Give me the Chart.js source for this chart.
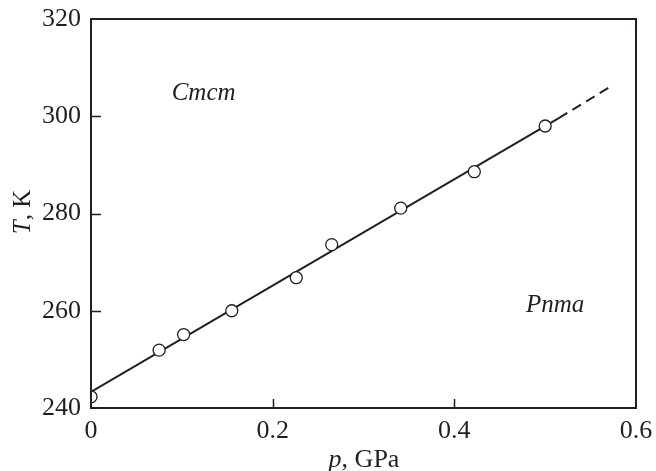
<!DOCTYPE html>
<html>
<head>
<meta charset="utf-8">
<script src="https://cdn.jsdelivr.net/npm/chart.js@4.4.0/dist/chart.umd.min.js"></script>
<style>
  html, body { margin: 0; padding: 0; background: #fff; }
  #wrap { width: 656px; height: 471px; position: relative; }
</style>
</head>
<body>
<div id="wrap"><canvas id="chart"></canvas></div>
<script>
// --- Data ---
const pressure = [0, 0.075, 0.102, 0.155, 0.226, 0.265, 0.341, 0.422, 0.500];
const temperature = [242.3, 251.9, 255.1, 260.0, 266.8, 273.6, 281.1, 288.6, 298.0];

// linear fit: solid part and dashed extrapolation
const fitSolidP = [0, 0.515];
const fitSolidT = [243.3, 299.6];
const fitDashP = [0.515, 0.571];
const fitDashT = [299.6, 306.0];

const xTicks = [0, 0.2, 0.4, 0.6];
const yTicks = [240, 260, 280, 300, 320];

// phase labels (data coordinates)
const phaseNames = ['Cmcm', 'Pnma'];
const phaseP = [0.124, 0.511];
const phaseT = [304.6, 261.0];

const INK = '#231f20';
const SERIF = '"Liberation Serif", "DejaVu Serif", serif';

const toXY = (xs, ys) => xs.map((x, i) => ({ x, y: ys[i] }));

// frame, inward ticks, axis titles, phase labels
const decorPlugin = {
    id: 'decor',
    afterDraw(chart) {
        const { ctx, chartArea: a, scales } = chart;
        ctx.save();
        ctx.strokeStyle = INK;
        ctx.lineWidth = 2;
        ctx.strokeRect(a.left, a.top, a.right - a.left, a.bottom - a.top);

        ctx.lineWidth = 1.5;
        ctx.beginPath();
        xTicks.slice(1, -1).forEach(v => {
            const px = Math.round(scales.x.getPixelForValue(v)) + 0.5;
            ctx.moveTo(px, a.bottom);
            ctx.lineTo(px, a.bottom - 9);
        });
        yTicks.slice(1, -1).forEach(v => {
            const py = Math.round(scales.y.getPixelForValue(v)) + 0.5;
            ctx.moveTo(a.left, py);
            ctx.lineTo(a.left + 10, py);
        });
        ctx.stroke();

        ctx.fillStyle = INK;
        ctx.textBaseline = 'alphabetic';

        // x title: "p, GPa"
        const xt1 = 'p', xt2 = ', GPa';
        ctx.font = 'italic 26px ' + SERIF;
        const w1 = ctx.measureText(xt1).width;
        ctx.font = '26px ' + SERIF;
        const w2 = ctx.measureText(xt2).width;
        let sx = 364 - (w1 + w2) / 2;
        ctx.textAlign = 'left';
        ctx.font = 'italic 26px ' + SERIF;
        ctx.fillText(xt1, sx, 467);
        ctx.font = '26px ' + SERIF;
        ctx.fillText(xt2, sx + w1, 467);

        // y title: "T, K" rotated
        ctx.save();
        ctx.translate(30, 212);
        ctx.rotate(-Math.PI / 2);
        const yt1 = 'T', yt2 = ', K';
        ctx.font = 'italic 25px ' + SERIF;
        const v1 = ctx.measureText(yt1).width;
        ctx.font = '25px ' + SERIF;
        const v2 = ctx.measureText(yt2).width;
        const sy = -(v1 + v2) / 2;
        ctx.font = 'italic 25px ' + SERIF;
        ctx.fillText(yt1, sy, 0);
        ctx.font = '25px ' + SERIF;
        ctx.fillText(yt2, sy + v1, 0);
        ctx.restore();

        // phase labels
        ctx.font = 'italic 25px ' + SERIF;
        ctx.textAlign = 'center';
        ctx.textBaseline = 'middle';
        phaseNames.forEach((name, i) => {
            ctx.fillText(name, scales.x.getPixelForValue(phaseP[i]), scales.y.getPixelForValue(phaseT[i]));
        });
        ctx.restore();
    }
};

new Chart(document.getElementById('chart'), {
    type: 'scatter',
    data: {
        datasets: [
            {
                label: 'fit',
                data: toXY(fitSolidP, fitSolidT),
                showLine: true,
                borderColor: INK,
                borderWidth: 2,
                pointRadius: 0,
                order: 2
            },
            {
                label: 'fit (extrapolated)',
                data: toXY(fitDashP, fitDashT),
                showLine: true,
                borderColor: INK,
                borderWidth: 2,
                borderDash: [10, 6],
                pointRadius: 0,
                order: 2
            },
            {
                label: 'measured',
                data: toXY(pressure, temperature),
                showLine: false,
                pointRadius: 6,
                pointBackgroundColor: '#fff',
                pointBorderColor: INK,
                pointBorderWidth: 1.3,
                order: 1
            }
        ]
    },
    options: {
        responsive: true,
        maintainAspectRatio: false,
        animation: false,
        layout: { padding: { top: 19, right: 20, left: 0, bottom: 0 } },
        scales: {
            x: {
                type: 'linear',
                min: 0,
                max: 0.6,
                afterFit: s => { s.height = 63; s.paddingLeft = 0; s.paddingRight = 0; },
                afterBuildTicks: s => { s.ticks = xTicks.map(v => ({ value: v })); },
                ticks: {
                    color: INK,
                    font: { family: SERIF, size: 26 },
                    padding: 8,
                    maxRotation: 0,
                    callback: v => (v === 0 ? '0' : v.toFixed(1))
                },
                grid: { display: false, drawTicks: false },
                border: { display: false }
            },
            y: {
                type: 'linear',
                min: 240,
                max: 320,
                afterFit: s => { s.width = 91; s.paddingTop = 0; s.paddingBottom = 0; },
                afterBuildTicks: s => { s.ticks = yTicks.map(v => ({ value: v })); },
                ticks: {
                    color: INK,
                    font: { family: SERIF, size: 26 },
                    padding: 10
                },
                grid: { display: false, drawTicks: false },
                border: { display: false }
            }
        },
        plugins: {
            legend: { display: false },
            tooltip: { enabled: false }
        }
    },
    plugins: [decorPlugin]
});
</script>
</body>
</html>
